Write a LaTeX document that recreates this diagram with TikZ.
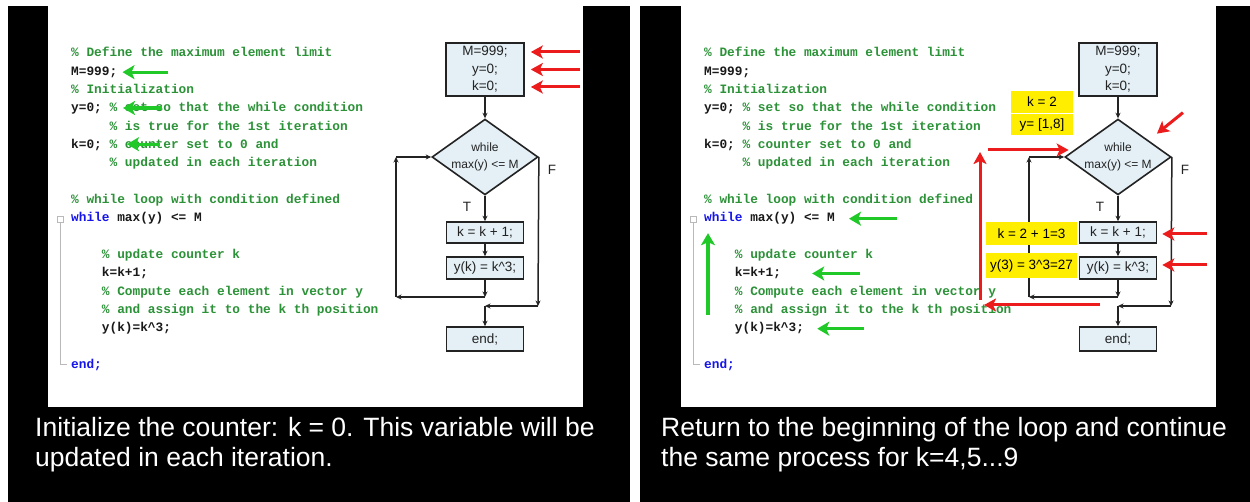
\documentclass[tikz,border=0pt]{standalone}
\usepackage{fontspec}
\setmainfont{Liberation Sans}
\newfontfamily\codefont{Liberation Mono}
\usetikzlibrary{arrows.meta,positioning,shapes.geometric,calc}
\definecolor{cmtgreen}{RGB}{44,146,56}
\definecolor{kwblue}{RGB}{20,20,235}
\definecolor{codeblack}{RGB}{25,25,25}
\definecolor{boxfill}{RGB}{228,240,246}
\definecolor{boxline}{RGB}{35,35,35}
\definecolor{foldgray}{RGB}{185,185,185}
\definecolor{hlred}{RGB}{236,28,28}
\definecolor{hlgreen}{RGB}{32,200,40}
\definecolor{hlyellow}{RGB}{255,238,0}

% listing and flowchart, the same on both slides
\newcommand{\slidebody}{%
  \node[codeln,text=cmtgreen] (cDef) at (71,57) {\% Define the maximum element limit};
  \node[codeln] (cM) at (71,75.3) {M=999;};
  \node[codeln,text=cmtgreen] (cInit) at (71,93.7) {\% Initialization};
  \node[codeln] (cY) at (71,112) {y=0; \textcolor{cmtgreen}{\% set so that the while condition}};
  \node[codeln,text=cmtgreen] (cTrue) at (109.4,130.3) {\% is true for the 1st iteration};
  \node[codeln] (cK) at (71,148.7) {k=0; \textcolor{cmtgreen}{\% counter set to 0 and}};
  \node[codeln,text=cmtgreen] (cUpd) at (109.4,167) {\% updated in each iteration};
  \node[codeln,text=cmtgreen] (cLoop) at (71,203.7) {\% while loop with condition defined};
  \node[codeln] (cWhile) at (71,222) {\textcolor{kwblue}{while} max(y) <= M};
  \node[codeln,text=cmtgreen] (cCnt) at (101.7,258.7) {\% update counter k};
  \node[codeln] (cIncK) at (101.7,277) {k=k+1;};
  \node[codeln,text=cmtgreen] (cCmp) at (101.7,295.3) {\% Compute each element in vector y};
  \node[codeln,text=cmtgreen] (cAsg) at (101.7,313.7) {\% and assign it to the k th position};
  \node[codeln] (cAsgY) at (101.7,332) {y(k)=k\textasciicircum3;};
  \node[codeln,text=kwblue] (cEnd) at (71,368.7) {end;};
  % fold marker of the while block
  \node[draw=foldgray,fill=white,minimum size=6pt,inner sep=0] (fold) at (60,219) {};
  \coordinate (foldEnd) at (67,364);
  \draw[foldgray,line width=.8pt] (fold.south) |- (foldEnd);
  % flowchart
  \node[fbox,minimum width=78pt,minimum height=53pt] (init) at (485,69.5) {M=999;\\y=0;\\k=0;};
  \node[fbox,diamond,aspect=1.4,minimum width=105pt,minimum height=75pt,font=\fontsize{12}{16.5}\selectfont] (cond) at (485,157) {while\\max(y) <= M};
  \node[fbox,minimum width=77pt,minimum height=21pt] (kbox) at (485,232.5) {k = k + 1;};
  \node[fbox,minimum width=77pt,minimum height=22pt] (ybox) at (485,268) {y(k) = k\textasciicircum3;};
  \node[fbox,minimum width=77pt,minimum height=24pt] (endbox) at (485,339) {end;};
  \node[flabel] (tF) at (552,170) {F};
  \node[flabel] (tT) at (467,207) {T};
  \coordinate (backA) at (485,297);
  \coordinate (backB) at (396,297);
  \coordinate (backC) at (396,157);
  \coordinate (exitA) at (538,306);
  \coordinate (exitB) at (485,306);
  \draw[flow] (init) -- (cond);
  \draw[flow] (cond) -- (kbox);
  \draw[flow] (kbox) -- (ybox);
  \draw[flow] (ybox) -- (backA);
  \draw[flow] (backA) -- (backB);
  \draw[flow] (backB) -- (backC);
  \draw[flow] (backC) -- (cond.west);
  \draw[flow] (cond.east) -- (exitA);
  \draw[flow] (exitA) -- (exitB);
  \draw[flow] (exitB) -- (endbox);
}

\begin{document}
\begin{tikzpicture}[x=1pt,y=-1pt]
\tikzstyle{codeln}=[anchor=base west,inner sep=0,text=codeblack,font=\codefont\bfseries\fontsize{12.8}{14}\selectfont]
\tikzstyle{fbox}=[draw=boxline,fill=boxfill,line width=1.6pt,text=boxline,inner sep=0,align=center,font=\fontsize{13.5}{17.5}\selectfont]
\tikzstyle{flabel}=[inner sep=0,text=boxline,font=\fontsize{13.5}{15}\selectfont]
\tikzstyle{flow}=[draw=boxline,line width=1.5pt,-{Stealth[length=5.5pt,width=5pt]}]
\tikzstyle{redarrow}=[draw=hlred,line width=3pt,-{Stealth[length=12pt,width=13pt,inset=3pt]}]
\tikzstyle{greenarrow}=[draw=hlgreen,line width=3.2pt,-{Stealth[length=12pt,width=14pt,inset=3pt]}]
\tikzstyle{hl}=[fill=hlyellow,inner sep=0,text=black,font=\fontsize{13.5}{15}\selectfont]
\tikzstyle{capt}=[anchor=base west,inner sep=0,text=white,font=\fontsize{26.5}{30}\selectfont]
\useasboundingbox (0,0) rectangle (1250,502);
\fill[white] (0,0) rectangle (1250,502);
% two slides on black
\fill[black] (8,6) rectangle (630,502);
\fill[black] (640,6) rectangle (1250,502);
\fill[white] (48,6) rectangle (583,407);
\fill[white] (681,6) rectangle (1216,407);

\begin{scope}[name prefix=L-]
\slidebody
\end{scope}
\begin{scope}[xshift=633pt,name prefix=R-]
\slidebody
\end{scope}

% first slide: initial values
\foreach \dy in {-17.5,0,17.5}
  \draw[redarrow] ($(L-init.east)+(55,\dy)$) -- ($(L-init.east)+(6,\dy)$);
\draw[greenarrow] ($(L-cM.east)+(51,0)$) -- ($(L-cM.east)+(5,0)$);
\draw[greenarrow] ($(L-cY.base west)+(91,-4)$) -- ($(L-cY.base west)+(52,-4)$);
\draw[greenarrow] ($(L-cK.base west)+(89,-4.5)$) -- ($(L-cK.base west)+(56,-4.5)$);

% second slide: values after the second pass
\node[hl,minimum width=62pt,minimum height=22pt] (kval) at (1042,102) {k = 2};
\node[hl,minimum width=62pt,minimum height=20.5pt,below=1pt of kval] (yval) {y= [1,8]};
\node[hl,minimum width=91pt,minimum height=23pt] (kinc) at (1031.5,233.5) {k = 2 + 1=3};
\node[hl,minimum width=91pt,minimum height=25pt,below=8pt of kinc] (ycube) {y(3) = 3\textasciicircum3=27};
\coordinate (retTail) at (1100,305);
\coordinate (retTip) at (984,305);
\coordinate (upTail) at (980,300);
\coordinate (upTip) at (980,152);
\draw[redarrow] ($(R-cond.north east)+(38,-25)$) -- ($(R-cond.north east)+(12,-4)$);
\draw[redarrow] ($(R-cond.west)+(-76.5,-7)$) -- ($(R-cond.west)+(4.5,-7)$);
\draw[redarrow] (upTail) -- (upTip);
\draw[redarrow] (retTail) -- (retTip);
\draw[redarrow] ($(R-kbox.east)+(50,1.5)$) -- ($(R-kbox.east)+(5,1.5)$);
\draw[redarrow] ($(R-ybox.east)+(50,-3)$) -- ($(R-ybox.east)+(5,-3)$);
\draw[greenarrow] ($(R-cWhile.east)+(62,0)$) -- ($(R-cWhile.east)+(14,0)$);
\draw[greenarrow] ($(R-cIncK.east)+(79,0)$) -- ($(R-cIncK.east)+(31,0)$);
\draw[greenarrow] ($(R-cAsgY.east)+(60,0)$) -- ($(R-cAsgY.east)+(13,0)$);
\draw[greenarrow] ($(R-fold.south)+(15,93)$) -- ($(R-fold.south)+(15,11)$);

% captions
\node[capt] (capL1) at (35,436) {Initialize the counter: k = 0. This variable will be};
\node[capt] (capL2) at (35,466) {updated in each iteration.};
\node[capt] (capR1) at (661,436) {Return to the beginning of the loop and continue};
\node[capt] (capR2) at (661,466) {the same process for k=4,5...9};
\end{tikzpicture}
\end{document}
